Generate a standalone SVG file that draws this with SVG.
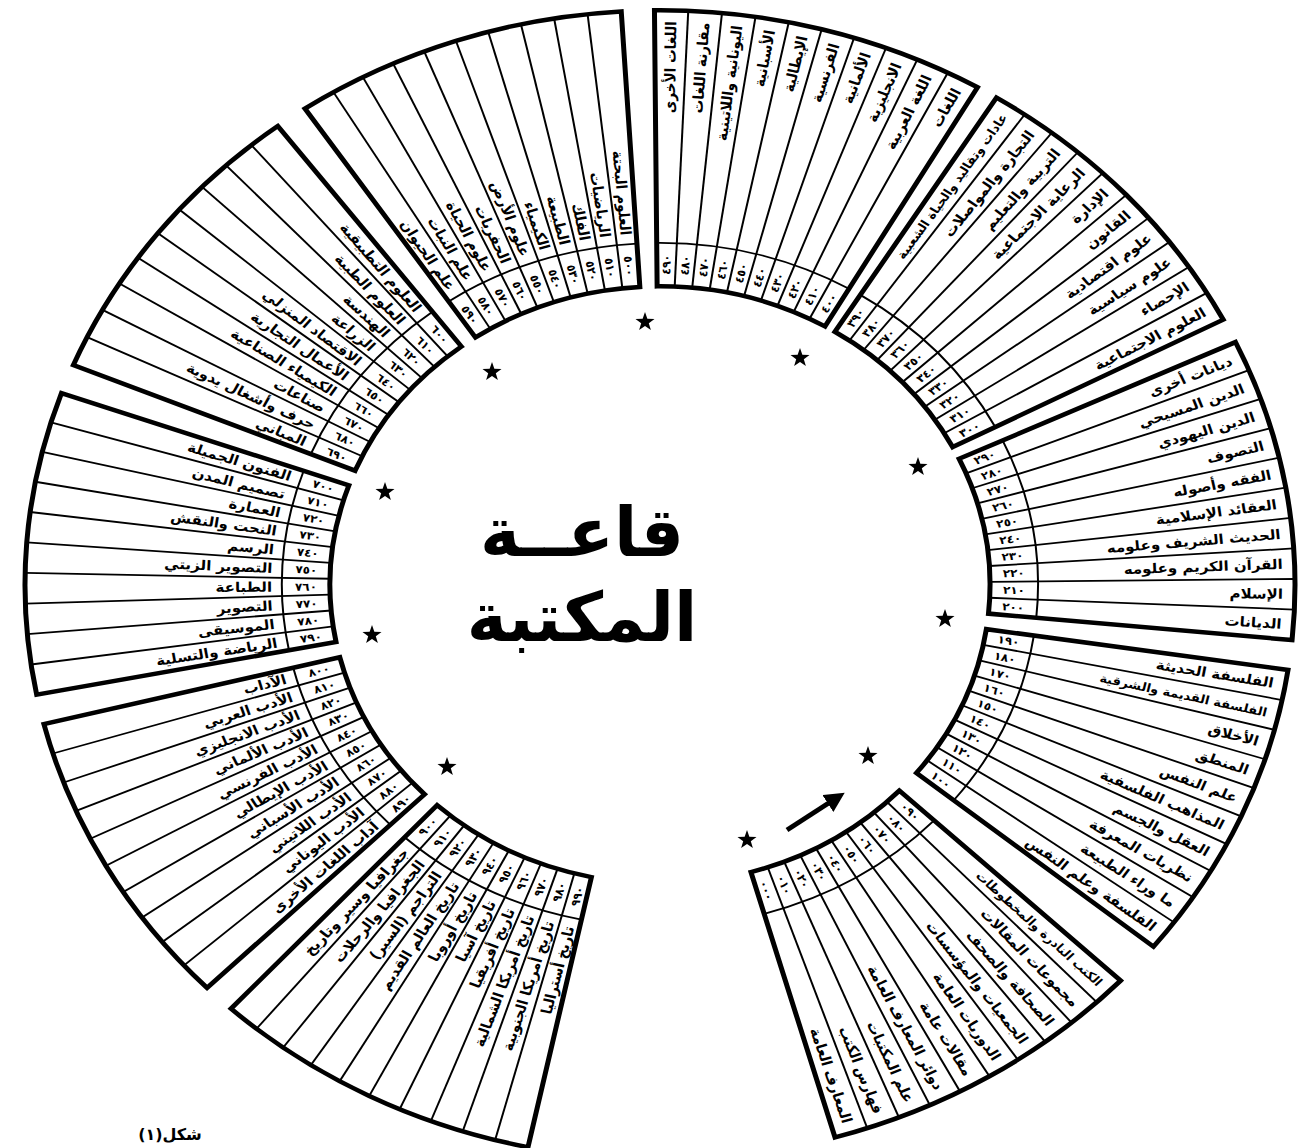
<svg xmlns="http://www.w3.org/2000/svg" xmlns:xlink="http://www.w3.org/1999/xlink" width="1303" height="1148" viewBox="0 0 1303 1148">
<style>
.o{fill:#fff;stroke:#000;stroke-width:5;stroke-linejoin:miter}
.d{stroke:#000;stroke-width:2;fill:none}
.l{font-family:"DejaVu Sans",sans-serif;font-weight:bold;font-size:15px;fill:#000;text-anchor:end;dominant-baseline:central}
.s{font-size:13px}
.n{font-family:"DejaVu Sans",sans-serif;font-weight:bold;font-size:12px;fill:#000;text-anchor:middle;dominant-baseline:central}
.t{font-family:"DejaVu Sans",sans-serif;font-weight:bold;fill:#000;text-anchor:middle}
.st{fill:#000}
</style>
<defs>
<path id="sh" d="M330,0 L635,0 A635,635 0 0 0 547.14,-322.29 L284.34,-167.49 A330,330 0 0 1 330,0 Z"/>
<g id="grid" class="d">
<path d="M378,0 A378,378 0 0 0 325.70,-191.85"/>
<line x1="330" x2="635" transform="rotate(-3.05)"/>
<line x1="330" x2="635" transform="rotate(-6.1)"/>
<line x1="330" x2="635" transform="rotate(-9.15)"/>
<line x1="330" x2="635" transform="rotate(-12.2)"/>
<line x1="330" x2="635" transform="rotate(-15.25)"/>
<line x1="330" x2="635" transform="rotate(-18.3)"/>
<line x1="330" x2="635" transform="rotate(-21.35)"/>
<line x1="330" x2="635" transform="rotate(-24.4)"/>
<line x1="330" x2="635" transform="rotate(-27.45)"/>
</g>
<polygon id="star" points="0,-10 2.35,-3.24 9.51,-3.09 3.8,1.24 5.88,8.09 0,4 -5.88,8.09 -3.8,1.24 -9.51,-3.09 -2.35,-3.24"/>
<marker id="ah" viewBox="0 0 10 10" refX="6" refY="5" markerWidth="4" markerHeight="4" orient="auto">
<path d="M0,0 L10,5 L0,10 z" fill="#000"/>
</marker>
</defs>
<rect width="1303" height="1148" fill="#fff"/>
<g transform="translate(660,585) scale(1,0.905)">
<g id="s000" transform="rotate(74)">
<use href="#sh" class="o"/><use href="#grid"/>
<text class="l" transform="rotate(-1.525) translate(623)">المعارف العامة</text>
<text class="l" transform="rotate(-4.575) translate(623)">فهارس الكتب</text>
<text class="l" transform="rotate(-7.625) translate(623)">علم المكتبات</text>
<text class="l" transform="rotate(-10.675) translate(623)">دوائر المعارف العامة</text>
<text class="l" transform="rotate(-13.725) translate(623)">مقالات عامة</text>
<text class="l" transform="rotate(-16.775) translate(623)">الدوريات العامة</text>
<text class="l" transform="rotate(-19.825) translate(623)">الجمعيات والمؤسسات</text>
<text class="l" transform="rotate(-22.875) translate(623)">الصحافة والصحف</text>
<text class="l" transform="rotate(-25.925) translate(623)">مجموعات المقالات</text>
<text class="l s" transform="rotate(-28.975) translate(623)">الكتب النادرة والمخطوطات</text>
<text class="n" transform="rotate(-1.525) translate(354)">٠٠٠</text>
<text class="n" transform="rotate(-4.575) translate(354)">٠١٠</text>
<text class="n" transform="rotate(-7.625) translate(354)">٠٢٠</text>
<text class="n" transform="rotate(-10.675) translate(354)">٠٣٠</text>
<text class="n" transform="rotate(-13.725) translate(354)">٠٤٠</text>
<text class="n" transform="rotate(-16.775) translate(354)">٠٥٠</text>
<text class="n" transform="rotate(-19.825) translate(354)">٠٦٠</text>
<text class="n" transform="rotate(-22.875) translate(354)">٠٧٠</text>
<text class="n" transform="rotate(-25.925) translate(354)">٠٨٠</text>
<text class="n" transform="rotate(-28.975) translate(354)">٠٩٠</text>
</g>
<g id="s100" transform="rotate(39)">
<use href="#sh" class="o"/><use href="#grid"/>
<text class="l" transform="rotate(-1.525) translate(623)">الفلسفة وعلم النفس</text>
<text class="l" transform="rotate(-4.575) translate(623)">ما وراء الطبيعة</text>
<text class="l" transform="rotate(-7.625) translate(623)">نظريات المعرفة</text>
<text class="l" transform="rotate(-10.675) translate(623)">العقل والجسم</text>
<text class="l" transform="rotate(-13.725) translate(623)">المذاهب الفلسفية</text>
<text class="l" transform="rotate(-16.775) translate(623)">علم النفس</text>
<text class="l" transform="rotate(-19.825) translate(623)">المنطق</text>
<text class="l" transform="rotate(-22.875) translate(623)">الأخلاق</text>
<text class="l s" transform="rotate(-25.925) translate(623)">الفلسفة القديمة والشرقية</text>
<text class="l" transform="rotate(-28.975) translate(623)">الفلسفة الحديثة</text>
<text class="n" transform="rotate(-1.525) translate(354)">١٠٠</text>
<text class="n" transform="rotate(-4.575) translate(354)">١١٠</text>
<text class="n" transform="rotate(-7.625) translate(354)">١٢٠</text>
<text class="n" transform="rotate(-10.675) translate(354)">١٣٠</text>
<text class="n" transform="rotate(-13.725) translate(354)">١٤٠</text>
<text class="n" transform="rotate(-16.775) translate(354)">١٥٠</text>
<text class="n" transform="rotate(-19.825) translate(354)">١٦٠</text>
<text class="n" transform="rotate(-22.875) translate(354)">١٧٠</text>
<text class="n" transform="rotate(-25.925) translate(354)">١٨٠</text>
<text class="n" transform="rotate(-28.975) translate(354)">١٩٠</text>
</g>
<g id="s200" transform="rotate(5.5)">
<use href="#sh" class="o"/><use href="#grid"/>
<text class="l" transform="rotate(-1.525) translate(623)">الديانات</text>
<text class="l" transform="rotate(-4.575) translate(623)">الإسلام</text>
<text class="l" transform="rotate(-7.625) translate(623)">القرآن الكريم وعلومه</text>
<text class="l" transform="rotate(-10.675) translate(623)">الحديث الشريف وعلومه</text>
<text class="l" transform="rotate(-13.725) translate(623)">العقائد الإسلامية</text>
<text class="l" transform="rotate(-16.775) translate(623)">الفقه وأصوله</text>
<text class="l" transform="rotate(-19.825) translate(623)">التصوف</text>
<text class="l" transform="rotate(-22.875) translate(623)">الدين اليهودي</text>
<text class="l" transform="rotate(-25.925) translate(623)">الدين المسيحي</text>
<text class="l" transform="rotate(-28.975) translate(623)">ديانات أخرى</text>
<text class="n" transform="rotate(-1.525) translate(354)">٢٠٠</text>
<text class="n" transform="rotate(-4.575) translate(354)">٢١٠</text>
<text class="n" transform="rotate(-7.625) translate(354)">٢٢٠</text>
<text class="n" transform="rotate(-10.675) translate(354)">٢٣٠</text>
<text class="n" transform="rotate(-13.725) translate(354)">٢٤٠</text>
<text class="n" transform="rotate(-16.775) translate(354)">٢٥٠</text>
<text class="n" transform="rotate(-19.825) translate(354)">٢٦٠</text>
<text class="n" transform="rotate(-22.875) translate(354)">٢٧٠</text>
<text class="n" transform="rotate(-25.925) translate(354)">٢٨٠</text>
<text class="n" transform="rotate(-28.975) translate(354)">٢٩٠</text>
</g>
<g id="s300" transform="rotate(-27.5)">
<use href="#sh" class="o"/><use href="#grid"/>
<text class="l" transform="rotate(-1.525) translate(623)">العلوم الاجتماعية</text>
<text class="l" transform="rotate(-4.575) translate(623)">الإحصاء</text>
<text class="l" transform="rotate(-7.625) translate(623)">علوم سياسية</text>
<text class="l" transform="rotate(-10.675) translate(623)">علوم اقتصادية</text>
<text class="l" transform="rotate(-13.725) translate(623)">القانون</text>
<text class="l" transform="rotate(-16.775) translate(623)">الإدارة</text>
<text class="l" transform="rotate(-19.825) translate(623)">الرعاية الاجتماعية</text>
<text class="l" transform="rotate(-22.875) translate(623)">التربية والتعليم</text>
<text class="l" transform="rotate(-25.925) translate(623)">التجارة والمواصلات</text>
<text class="l s" transform="rotate(-28.975) translate(623)">عادات وتقاليد والحياة الشعبية</text>
<text class="n" transform="rotate(-1.525) translate(354)">٣٠٠</text>
<text class="n" transform="rotate(-4.575) translate(354)">٣١٠</text>
<text class="n" transform="rotate(-7.625) translate(354)">٣٢٠</text>
<text class="n" transform="rotate(-10.675) translate(354)">٣٣٠</text>
<text class="n" transform="rotate(-13.725) translate(354)">٣٤٠</text>
<text class="n" transform="rotate(-16.775) translate(354)">٣٥٠</text>
<text class="n" transform="rotate(-19.825) translate(354)">٣٦٠</text>
<text class="n" transform="rotate(-22.875) translate(354)">٣٧٠</text>
<text class="n" transform="rotate(-25.925) translate(354)">٣٨٠</text>
<text class="n" transform="rotate(-28.975) translate(354)">٣٩٠</text>
</g>
<g id="s400" transform="rotate(-60)">
<use href="#sh" class="o"/><use href="#grid"/>
<text class="l" transform="rotate(-1.525) translate(623)">اللغات</text>
<text class="l" transform="rotate(-4.575) translate(623)">اللغة العربية</text>
<text class="l" transform="rotate(-7.625) translate(623)">الانجليزية</text>
<text class="l" transform="rotate(-10.675) translate(623)">الألمانية</text>
<text class="l" transform="rotate(-13.725) translate(623)">الفرنسية</text>
<text class="l" transform="rotate(-16.775) translate(623)">الإيطالية</text>
<text class="l" transform="rotate(-19.825) translate(623)">الأسبانية</text>
<text class="l" transform="rotate(-22.875) translate(623)">اليونانية واللاتينية</text>
<text class="l" transform="rotate(-25.925) translate(623)">مقارنة اللغات</text>
<text class="l" transform="rotate(-28.975) translate(623)">اللغات الأخرى</text>
<text class="n" transform="rotate(-1.525) translate(354)">٤٠٠</text>
<text class="n" transform="rotate(-4.575) translate(354)">٤١٠</text>
<text class="n" transform="rotate(-7.625) translate(354)">٤٢٠</text>
<text class="n" transform="rotate(-10.675) translate(354)">٤٣٠</text>
<text class="n" transform="rotate(-13.725) translate(354)">٤٤٠</text>
<text class="n" transform="rotate(-16.775) translate(354)">٤٥٠</text>
<text class="n" transform="rotate(-19.825) translate(354)">٤٦٠</text>
<text class="n" transform="rotate(-22.875) translate(354)">٤٧٠</text>
<text class="n" transform="rotate(-25.925) translate(354)">٤٨٠</text>
<text class="n" transform="rotate(-28.975) translate(354)">٤٩٠</text>
</g>
<g id="s500" transform="rotate(-93.5)">
<use href="#sh" class="o"/><use href="#grid"/>
<text class="l" transform="rotate(-1.525) translate(388) rotate(180)">العلوم البحتة</text>
<text class="l" transform="rotate(-4.575) translate(388) rotate(180)">الرياضيات</text>
<text class="l" transform="rotate(-7.625) translate(388) rotate(180)">الفلك</text>
<text class="l" transform="rotate(-10.675) translate(388) rotate(180)">الطبيعة</text>
<text class="l" transform="rotate(-13.725) translate(388) rotate(180)">الكيمياء</text>
<text class="l" transform="rotate(-16.775) translate(388) rotate(180)">علوم الأرض</text>
<text class="l" transform="rotate(-19.825) translate(388) rotate(180)">الحفريات</text>
<text class="l" transform="rotate(-22.875) translate(388) rotate(180)">علوم الحياة</text>
<text class="l" transform="rotate(-25.925) translate(388) rotate(180)">علم النبات</text>
<text class="l" transform="rotate(-28.975) translate(388) rotate(180)">علم الحيوان</text>
<text class="n" transform="rotate(-1.525) translate(354) rotate(180)">٥٠٠</text>
<text class="n" transform="rotate(-4.575) translate(354) rotate(180)">٥١٠</text>
<text class="n" transform="rotate(-7.625) translate(354) rotate(180)">٥٢٠</text>
<text class="n" transform="rotate(-10.675) translate(354) rotate(180)">٥٣٠</text>
<text class="n" transform="rotate(-13.725) translate(354) rotate(180)">٥٤٠</text>
<text class="n" transform="rotate(-16.775) translate(354) rotate(180)">٥٥٠</text>
<text class="n" transform="rotate(-19.825) translate(354) rotate(180)">٥٦٠</text>
<text class="n" transform="rotate(-22.875) translate(354) rotate(180)">٥٧٠</text>
<text class="n" transform="rotate(-25.925) translate(354) rotate(180)">٥٨٠</text>
<text class="n" transform="rotate(-28.975) translate(354) rotate(180)">٥٩٠</text>
</g>
<g id="s600" transform="rotate(-127)">
<use href="#sh" class="o"/><use href="#grid"/>
<text class="l" transform="rotate(-1.525) translate(388) rotate(180)">العلوم التطبيقية</text>
<text class="l" transform="rotate(-4.575) translate(388) rotate(180)">العلوم الطبية</text>
<text class="l" transform="rotate(-7.625) translate(388) rotate(180)">الهندسة</text>
<text class="l" transform="rotate(-10.675) translate(388) rotate(180)">الزراعة</text>
<text class="l" transform="rotate(-13.725) translate(388) rotate(180)">الاقتصاد المنزلي</text>
<text class="l" transform="rotate(-16.775) translate(388) rotate(180)">الأعمال التجارية</text>
<text class="l" transform="rotate(-19.825) translate(388) rotate(180)">الكيمياء الصناعية</text>
<text class="l" transform="rotate(-22.875) translate(388) rotate(180)">صناعات</text>
<text class="l" transform="rotate(-25.925) translate(388) rotate(180)">حرف وأشغال يدوية</text>
<text class="l" transform="rotate(-28.975) translate(388) rotate(180)">المباني</text>
<text class="n" transform="rotate(-1.525) translate(354) rotate(180)">٦٠٠</text>
<text class="n" transform="rotate(-4.575) translate(354) rotate(180)">٦١٠</text>
<text class="n" transform="rotate(-7.625) translate(354) rotate(180)">٦٢٠</text>
<text class="n" transform="rotate(-10.675) translate(354) rotate(180)">٦٣٠</text>
<text class="n" transform="rotate(-13.725) translate(354) rotate(180)">٦٤٠</text>
<text class="n" transform="rotate(-16.775) translate(354) rotate(180)">٦٥٠</text>
<text class="n" transform="rotate(-19.825) translate(354) rotate(180)">٦٦٠</text>
<text class="n" transform="rotate(-22.875) translate(354) rotate(180)">٦٧٠</text>
<text class="n" transform="rotate(-25.925) translate(354) rotate(180)">٦٨٠</text>
<text class="n" transform="rotate(-28.975) translate(354) rotate(180)">٦٩٠</text>
</g>
<g id="s700" transform="rotate(-160.5)">
<use href="#sh" class="o"/><use href="#grid"/>
<text class="l" transform="rotate(-1.525) translate(388) rotate(180)">الفنون الجميلة</text>
<text class="l" transform="rotate(-4.575) translate(388) rotate(180)">تصميم المدن</text>
<text class="l" transform="rotate(-7.625) translate(388) rotate(180)">العمارة</text>
<text class="l" transform="rotate(-10.675) translate(388) rotate(180)">النحت والنقش</text>
<text class="l" transform="rotate(-13.725) translate(388) rotate(180)">الرسم</text>
<text class="l" transform="rotate(-16.775) translate(388) rotate(180)">التصوير الزيتي</text>
<text class="l" transform="rotate(-19.825) translate(388) rotate(180)">الطباعة</text>
<text class="l" transform="rotate(-22.875) translate(388) rotate(180)">التصوير</text>
<text class="l" transform="rotate(-25.925) translate(388) rotate(180)">الموسيقى</text>
<text class="l" transform="rotate(-28.975) translate(388) rotate(180)">الرياضة والتسلية</text>
<text class="n" transform="rotate(-1.525) translate(354) rotate(180)">٧٠٠</text>
<text class="n" transform="rotate(-4.575) translate(354) rotate(180)">٧١٠</text>
<text class="n" transform="rotate(-7.625) translate(354) rotate(180)">٧٢٠</text>
<text class="n" transform="rotate(-10.675) translate(354) rotate(180)">٧٣٠</text>
<text class="n" transform="rotate(-13.725) translate(354) rotate(180)">٧٤٠</text>
<text class="n" transform="rotate(-16.775) translate(354) rotate(180)">٧٥٠</text>
<text class="n" transform="rotate(-19.825) translate(354) rotate(180)">٧٦٠</text>
<text class="n" transform="rotate(-22.875) translate(354) rotate(180)">٧٧٠</text>
<text class="n" transform="rotate(-25.925) translate(354) rotate(180)">٧٨٠</text>
<text class="n" transform="rotate(-28.975) translate(354) rotate(180)">٧٩٠</text>
</g>
<g id="s800" transform="rotate(166)">
<use href="#sh" class="o"/><use href="#grid"/>
<text class="l" transform="rotate(-1.525) translate(388) rotate(180)">الآداب</text>
<text class="l" transform="rotate(-4.575) translate(388) rotate(180)">الأدب العربي</text>
<text class="l" transform="rotate(-7.625) translate(388) rotate(180)">الأدب الانجليزي</text>
<text class="l" transform="rotate(-10.675) translate(388) rotate(180)">الأدب الألماني</text>
<text class="l" transform="rotate(-13.725) translate(388) rotate(180)">الأدب الفرنسي</text>
<text class="l" transform="rotate(-16.775) translate(388) rotate(180)">الأدب الإيطالي</text>
<text class="l" transform="rotate(-19.825) translate(388) rotate(180)">الأدب الأسباني</text>
<text class="l" transform="rotate(-22.875) translate(388) rotate(180)">الأدب اللاتيني</text>
<text class="l" transform="rotate(-25.925) translate(388) rotate(180)">الأدب اليوناني</text>
<text class="l" transform="rotate(-28.975) translate(388) rotate(180)">آداب اللغات الأخرى</text>
<text class="n" transform="rotate(-1.525) translate(354) rotate(180)">٨٠٠</text>
<text class="n" transform="rotate(-4.575) translate(354) rotate(180)">٨١٠</text>
<text class="n" transform="rotate(-7.625) translate(354) rotate(180)">٨٢٠</text>
<text class="n" transform="rotate(-10.675) translate(354) rotate(180)">٨٣٠</text>
<text class="n" transform="rotate(-13.725) translate(354) rotate(180)">٨٤٠</text>
<text class="n" transform="rotate(-16.775) translate(354) rotate(180)">٨٥٠</text>
<text class="n" transform="rotate(-19.825) translate(354) rotate(180)">٨٦٠</text>
<text class="n" transform="rotate(-22.875) translate(354) rotate(180)">٨٧٠</text>
<text class="n" transform="rotate(-25.925) translate(354) rotate(180)">٨٨٠</text>
<text class="n" transform="rotate(-28.975) translate(354) rotate(180)">٨٩٠</text>
</g>
<g id="s900" transform="rotate(132.5)">
<use href="#sh" class="o"/><use href="#grid"/>
<text class="l" transform="rotate(-1.525) translate(388) rotate(180)">جغرافيا وسير وتاريخ</text>
<text class="l" transform="rotate(-4.575) translate(388) rotate(180)">الجغرافيا والرحلات</text>
<text class="l" transform="rotate(-7.625) translate(388) rotate(180)">التراجم (السير)</text>
<text class="l" transform="rotate(-10.675) translate(388) rotate(180)">تاريخ العالم القديم</text>
<text class="l" transform="rotate(-13.725) translate(388) rotate(180)">تاريخ أوروبا</text>
<text class="l" transform="rotate(-16.775) translate(388) rotate(180)">تاريخ آسيا</text>
<text class="l" transform="rotate(-19.825) translate(388) rotate(180)">تاريخ أفريقيا</text>
<text class="l" transform="rotate(-22.875) translate(388) rotate(180)">تاريخ أمريكا الشمالية</text>
<text class="l" transform="rotate(-25.925) translate(388) rotate(180)">تاريخ أمريكا الجنوبية</text>
<text class="l" transform="rotate(-28.975) translate(388) rotate(180)">تاريخ أستراليا</text>
<text class="n" transform="rotate(-1.525) translate(354) rotate(180)">٩٠٠</text>
<text class="n" transform="rotate(-4.575) translate(354) rotate(180)">٩١٠</text>
<text class="n" transform="rotate(-7.625) translate(354) rotate(180)">٩٢٠</text>
<text class="n" transform="rotate(-10.675) translate(354) rotate(180)">٩٣٠</text>
<text class="n" transform="rotate(-13.725) translate(354) rotate(180)">٩٤٠</text>
<text class="n" transform="rotate(-16.775) translate(354) rotate(180)">٩٥٠</text>
<text class="n" transform="rotate(-19.825) translate(354) rotate(180)">٩٦٠</text>
<text class="n" transform="rotate(-22.875) translate(354) rotate(180)">٩٧٠</text>
<text class="n" transform="rotate(-25.925) translate(354) rotate(180)">٩٨٠</text>
<text class="n" transform="rotate(-28.975) translate(354) rotate(180)">٩٩٠</text>
</g>
</g>
<g id="stars" class="st">
<use href="#star" x="645" y="322"/>
<use href="#star" x="492" y="372"/>
<use href="#star" x="800" y="358"/>
<use href="#star" x="918" y="467"/>
<use href="#star" x="385" y="492"/>
<use href="#star" x="945" y="619"/>
<use href="#star" x="372" y="635"/>
<use href="#star" x="447" y="767"/>
<use href="#star" x="868" y="756"/>
<use href="#star" x="747" y="840"/>
</g>
<g id="title">
<text class="t" x="582" y="556" font-size="68">قاعــة</text>
<text class="t" x="582" y="641" font-size="68">المكتبة</text>
</g>
<g id="connectors">
<line x1="787" y1="830" x2="838" y2="797" stroke="#000" stroke-width="5" marker-end="url(#ah)"/>
</g>
<g id="caption">
<text class="t" x="170" y="1140" font-size="16">شكل(١)</text>
</g>
</svg>
